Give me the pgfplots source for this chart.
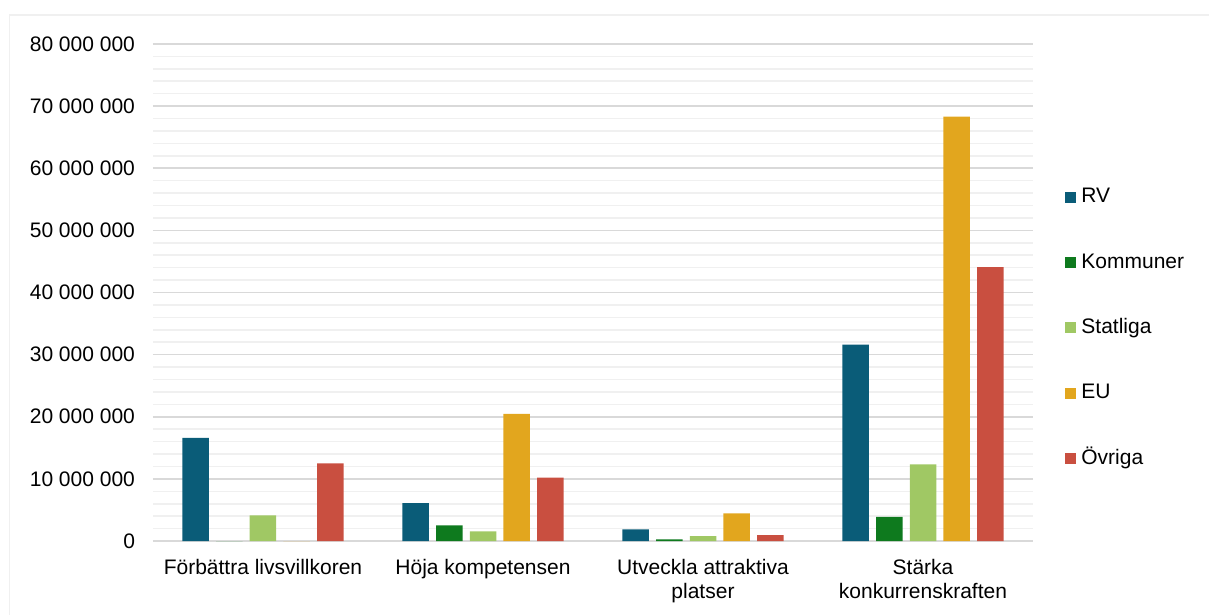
\documentclass[border=0pt]{standalone}
\usepackage{fontspec}
\setmainfont{Liberation Sans}
\usepackage{pgfplots}
\pgfplotsset{compat=1.18}
\definecolor{cRV}{HTML}{0A5C78}
\definecolor{cKom}{HTML}{0E7A1E}
\definecolor{cStat}{HTML}{A0C864}
\definecolor{cEU}{HTML}{E2A61E}
\definecolor{cOvr}{HTML}{C94F40}
\definecolor{gmaj}{HTML}{D9D9D9}
\definecolor{gmin}{HTML}{F0F0F0}
\begin{document}
\begin{tikzpicture}
\path[use as bounding box] (-76.5pt,-37pt) rectangle (528pt,270.5pt);
\draw[color=gmin, line width=0.8pt] (-71.75pt,-37pt) -- (-71.75pt,263pt) -- (528pt,263pt);
\begin{axis}[
  at={(0,0)}, anchor=south west,
  scale only axis,
  width=440pt, height=248.5pt,
  xmin=-0.5, xmax=3.5,
  ymin=0, ymax=80000000,
  scaled y ticks=false,
  ybar=3.6pt, bar width=13.25pt,
  axis line style={draw=none},
  major tick length=0pt, minor tick length=0pt,
  xtick={0,1,2,3},
  xticklabels={Förbättra livsvillkoren, Höja kompetensen, {Utveckla attraktiva\\platser}, {Stärka\\konkurrenskraften}},
  xticklabel style={align=center, font=\fontsize{10.5}{12}\selectfont, yshift=-5.5pt},
  ytick={0,10000000,20000000,30000000,40000000,50000000,60000000,70000000,80000000},
  yticklabels={0,10 000 000,20 000 000,30 000 000,40 000 000,50 000 000,60 000 000,70 000 000,80 000 000},
  yticklabel style={font=\fontsize{10.5}{12}\selectfont, xshift=-5.5pt},
  minor y tick num=4,
  ymajorgrids, yminorgrids,
  major grid style={draw=gmaj, line width=0.8pt},
  minor grid style={draw=gmin, line width=0.8pt},
  legend style={at={(rel axis cs:1,0.4286)}, anchor=west, xshift=16pt, draw=none, fill=none,
    inner sep=0pt, row sep=22.2pt, font=\fontsize{10.5}{12}\selectfont,
    nodes={inner sep=0pt, text height=8pt, text depth=2.5pt}},
  legend cell align=left,
  legend image code/.code={\fill[#1] (0pt,-2.75pt) rectangle (5.5pt,2.75pt);},
  /tikz/every odd column/.append style={column sep=2.5pt},
]
\addplot[fill=cRV, draw=none] coordinates {(0,16600000) (1,6100000) (2,1880000) (3,31600000)};
\addplot[fill=cKom, draw=none] coordinates {(0,0) (1,2500000) (2,270000) (3,3900000)};
\addplot[fill=cStat, draw=none] coordinates {(0,4140000) (1,1560000) (2,800000) (3,12350000)};
\addplot[fill=cEU, draw=none] coordinates {(0,0) (1,20450000) (2,4460000) (3,68300000)};
\addplot[fill=cOvr, draw=none] coordinates {(0,12500000) (1,10200000) (2,950000) (3,44100000)};
\legend{RV, Kommuner, Statliga, EU, Övriga}
\end{axis}
\end{tikzpicture}
\end{document}
